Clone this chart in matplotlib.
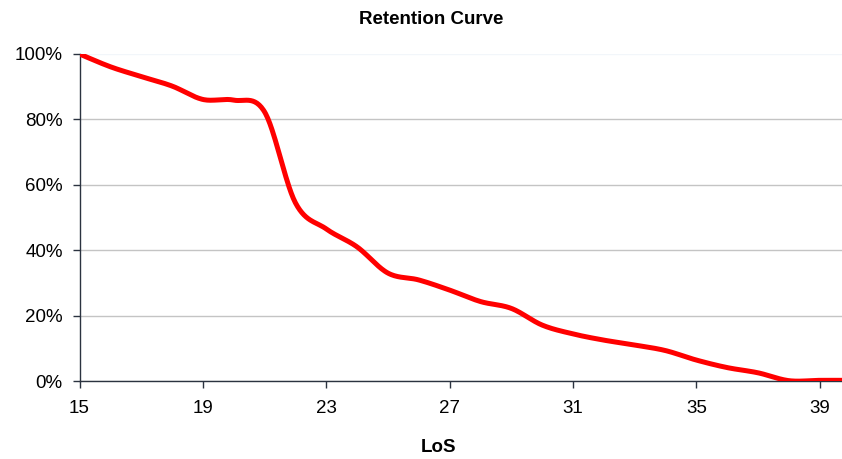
import numpy as np
import matplotlib.pyplot as plt
from matplotlib.ticker import PercentFormatter

los = [15, 16, 17, 18, 19, 20, 21, 22, 23, 24, 25, 26, 27,
       28, 29, 30, 31, 32, 33, 34, 35, 36, 37, 38, 39, 40]
retencion = [100, 96.1, 93.1, 90.2, 86.1, 85.9, 82.3, 54.5, 46.5, 41, 33, 30.9, 27.8,
             24.3, 22.2, 17.1, 14.4, 12.5, 11, 9.3, 6.4, 4.1, 2.5, 0.1, 0.2, 0.2]
x_ticks = [15, 19, 23, 27, 31, 35, 39]
y_ticks = [0, 20, 40, 60, 80, 100]


def suavizar(x, y, n=30):
    # curva suavizada tipo Catmull-Rom (como la linea suavizada de Excel)
    x = np.asarray(x, float)
    y = np.asarray(y, float)
    px = np.concatenate([[x[0]], x, [x[-1]]])
    py = np.concatenate([[y[0]], y, [y[-1]]])
    xs, ys = [], []
    t = np.linspace(0, 1, n)
    for i in range(1, len(px) - 2):
        p0, p1, p2, p3 = [np.array([px[j], py[j]]) for j in (i - 1, i, i + 1, i + 2)]
        c1 = p1 + (p2 - p0) / 6
        c2 = p2 - (p3 - p1) / 6
        b = ((1 - t) ** 3)[:, None] * p1 + (3 * (1 - t) ** 2 * t)[:, None] * c1 \
            + (3 * (1 - t) * t ** 2)[:, None] * c2 + (t ** 3)[:, None] * p2
        xs.extend(b[:, 0])
        ys.extend(b[:, 1])
    return np.array(xs), np.array(ys)


plt.rcParams['font.family'] = ['Liberation Sans', 'DejaVu Sans']

fig = plt.figure(figsize=(8.42, 4.59), dpi=100)
ax = fig.add_axes([79.5 / 842, 1 - 381 / 459, 1 - 79.5 / 842, (381 - 54) / 459])

xs, ys = suavizar(los, retencion)
ax.plot(xs, ys, color='#ff0000', lw=3.6, solid_capstyle='butt', clip_on=True, zorder=3)

ax.set_xlim(15, 39.72)
ax.set_ylim(0, 100)
ax.set_xticks(x_ticks)
ax.set_yticks(y_ticks)
ax.yaxis.set_major_formatter(PercentFormatter(decimals=0))
ax.tick_params(axis='both', labelsize=13.5, colors='#2b3340', labelcolor='black',
               length=5, width=1, direction='out')
ax.tick_params(axis='y', pad=7)
ax.tick_params(axis='x', pad=9)

ax.grid(axis='y', color='#c4c4c4', lw=1)
ax.yaxis.get_gridlines()[-1].set_color('#f2f6fa')
ax.set_axisbelow(True)

for s in ('top', 'right'):
    ax.spines[s].set_visible(False)
for s in ('left', 'bottom'):
    ax.spines[s].set_color('#2b3340')
    ax.spines[s].set_linewidth(1)

fig.text(431 / 842, 1 - 20 / 459, 'Retention Curve', ha='center', va='center',
         fontsize=13.5, fontweight='bold')
fig.text(439 / 842, 1 - 447 / 459, 'LoS', ha='center', va='center',
         fontsize=13.5, fontweight='bold')

fig.savefig('out.png', dpi=100)
